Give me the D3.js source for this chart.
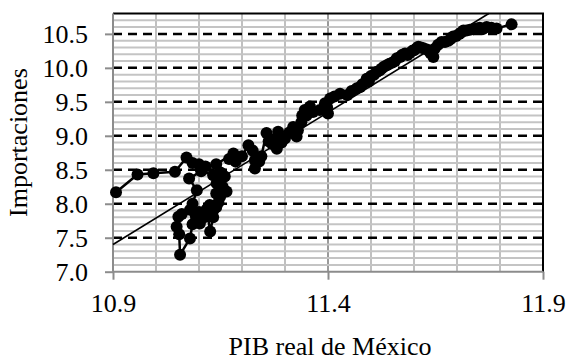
<!DOCTYPE html>
<html><head><meta charset="utf-8">
<script src="https://cdn.jsdelivr.net/npm/d3@7"></script>
<style>body{margin:0;background:#fff}svg{display:block}text{font-family:"Liberation Serif","Times New Roman",serif}</style>
</head><body>
<svg id="c" width="569" height="362"></svg>
<script>
const xTicks = [10.9, 11.4, 11.9];
const yTicks = [7.0, 7.5, 8.0, 8.5, 9.0, 9.5, 10.0, 10.5];
const pib = [10.907,10.957,10.994,11.044,11.071,11.085,11.100,11.115,11.133,11.105,11.077,11.095,11.085,11.060,11.052,11.048,11.054,11.056,11.079,11.085,11.079,11.095,11.102,11.112,11.100,11.118,11.126,11.133,11.133,11.125,11.140,11.145,11.149,11.140,11.164,11.155,11.141,11.160,11.150,11.110,11.140,11.180,11.170,11.185,11.200,11.215,11.225,11.230,11.230,11.240,11.245,11.257,11.262,11.270,11.284,11.275,11.281,11.292,11.300,11.310,11.319,11.327,11.330,11.338,11.340,11.346,11.358,11.350,11.365,11.381,11.393,11.400,11.398,11.405,11.415,11.428,11.445,11.455,11.467,11.475,11.480,11.490,11.495,11.500,11.507,11.513,11.520,11.525,11.531,11.537,11.543,11.550,11.556,11.560,11.568,11.572,11.579,11.585,11.590,11.596,11.600,11.606,11.610,11.616,11.622,11.630,11.638,11.645,11.640,11.648,11.656,11.664,11.672,11.680,11.686,11.691,11.698,11.705,11.710,11.715,11.722,11.730,11.738,11.746,11.753,11.760,11.769,11.780,11.792,11.827];
const importaciones = [8.17,8.43,8.45,8.47,8.68,8.60,8.58,8.55,8.42,8.48,8.37,8.20,8.00,7.85,7.81,7.66,7.55,7.25,7.49,7.70,7.91,7.82,7.71,7.80,7.88,7.92,7.59,7.80,7.90,7.98,7.95,8.02,8.10,8.15,8.18,8.25,8.30,8.40,8.46,8.54,8.58,8.74,8.66,8.62,8.70,8.86,8.78,8.64,8.52,8.62,8.70,9.04,8.92,8.88,9.06,8.95,8.81,8.90,8.96,9.05,9.13,8.99,9.08,9.20,9.30,9.38,9.43,9.30,9.35,9.38,9.48,9.33,9.42,9.55,9.58,9.62,9.60,9.66,9.70,9.72,9.76,9.84,9.80,9.88,9.90,9.94,9.96,9.99,10.02,10.04,10.06,10.08,10.10,10.14,10.16,10.19,10.21,10.19,10.22,10.25,10.26,10.29,10.31,10.30,10.29,10.27,10.22,10.16,10.22,10.28,10.34,10.38,10.38,10.40,10.43,10.46,10.47,10.50,10.52,10.55,10.55,10.56,10.57,10.58,10.59,10.57,10.60,10.59,10.58,10.64];
const trendIntercept = 7.40, trendSlope = 3.89; // y = a + b*(x-10.9)

const FONT = '"Liberation Serif","Times New Roman",serif';
const FS = '26px';
const svg = d3.select('#c');
const L = 113, R = 543, T = 13.5, B = 271.7;
const x = d3.scaleLinear().domain([10.9, 11.9]).range([L, R]);
const y = d3.scaleLinear().domain([7.0, 10.8]).range([B, T]);

const grid = svg.append('g');
d3.range(1, 10).forEach(i => {
  const v = 10.9 + i * 0.1;
  grid.append('line').attr('x1', x(v)).attr('x2', x(v)).attr('y1', T).attr('y2', B)
    .attr('stroke', Math.abs(v - 11.4) < 1e-6 ? '#9a9a9a' : '#c0c0c0').attr('stroke-width', 2);
});
d3.range(1, 38).forEach(i => {
  if (i % 5 === 0) return;
  const v = 7.0 + i * 0.1;
  grid.append('line').attr('x1', L).attr('x2', R).attr('y1', y(v)).attr('y2', y(v))
    .attr('stroke', '#c4c4c4').attr('stroke-width', 2);
});
yTicks.slice(1).forEach(v => {
  grid.append('line').attr('x1', L).attr('x2', R).attr('y1', y(v)).attr('y2', y(v))
    .attr('stroke', '#000').attr('stroke-width', 2.5).attr('stroke-dasharray', '9,6');
});
svg.append('line').attr('x1', L).attr('x2', R + 1).attr('y1', T).attr('y2', T).attr('stroke', '#000').attr('stroke-width', 2);
svg.append('line').attr('x1', R).attr('x2', R).attr('y1', T).attr('y2', B).attr('stroke', '#000').attr('stroke-width', 2);

const yAxis = svg.append('g').attr('transform', `translate(${L},0)`)
  .call(d3.axisLeft(y).tickValues(yTicks).tickFormat(d3.format('.1f')).tickSize(8).tickPadding(17));
const xAxis = svg.append('g').attr('transform', `translate(0,${B})`)
  .call(d3.axisBottom(x).tickValues(xTicks).tickFormat(d3.format('.1f')).tickSize(8).tickPadding(14));
[yAxis, xAxis].forEach(a => {
  a.attr('font-family', FONT).attr('font-size', 26);
  a.select('.domain').attr('stroke', '#8c8c8c').attr('stroke-width', 2);
  a.selectAll('.tick line').attr('stroke', '#8c8c8c').attr('stroke-width', 2);
  a.selectAll('text').style('font-family', FONT).style('font-size', FS).attr('fill', '#000');
});
yAxis.select('.domain').attr('d', `M0,${T}V${B}`);
xAxis.select('.domain').attr('d', `M${L},0H${R}`);

const pts = pib.map((v, i) => [v, importaciones[i]]);
svg.append('path').datum(pts)
  .attr('d', d3.line().x(d => x(d[0])).y(d => y(d[1])))
  .attr('fill', 'none').attr('stroke', '#000').attr('stroke-width', 2.5);
svg.append('g').selectAll('circle').data(pts).join('circle')
  .attr('cx', d => x(d[0])).attr('cy', d => y(d[1])).attr('r', 6).attr('fill', '#000');

const xEnd = 10.9 + (10.8 - trendIntercept) / trendSlope;
svg.append('line')
  .attr('x1', x(10.9)).attr('y1', y(trendIntercept))
  .attr('x2', x(xEnd)).attr('y2', y(10.8))
  .attr('stroke', '#000').attr('stroke-width', 1.6);

svg.append('text').attr('x', 330).attr('y', 355).attr('text-anchor', 'middle')
  .style('font-family', FONT).style('font-size', FS).text('PIB real de México');
svg.append('text').attr('transform', `translate(27,${(T + B) / 2}) rotate(-90)`).attr('text-anchor', 'middle')
  .style('font-family', FONT).style('font-size', FS).text('Importaciones');
</script>
</body></html>
